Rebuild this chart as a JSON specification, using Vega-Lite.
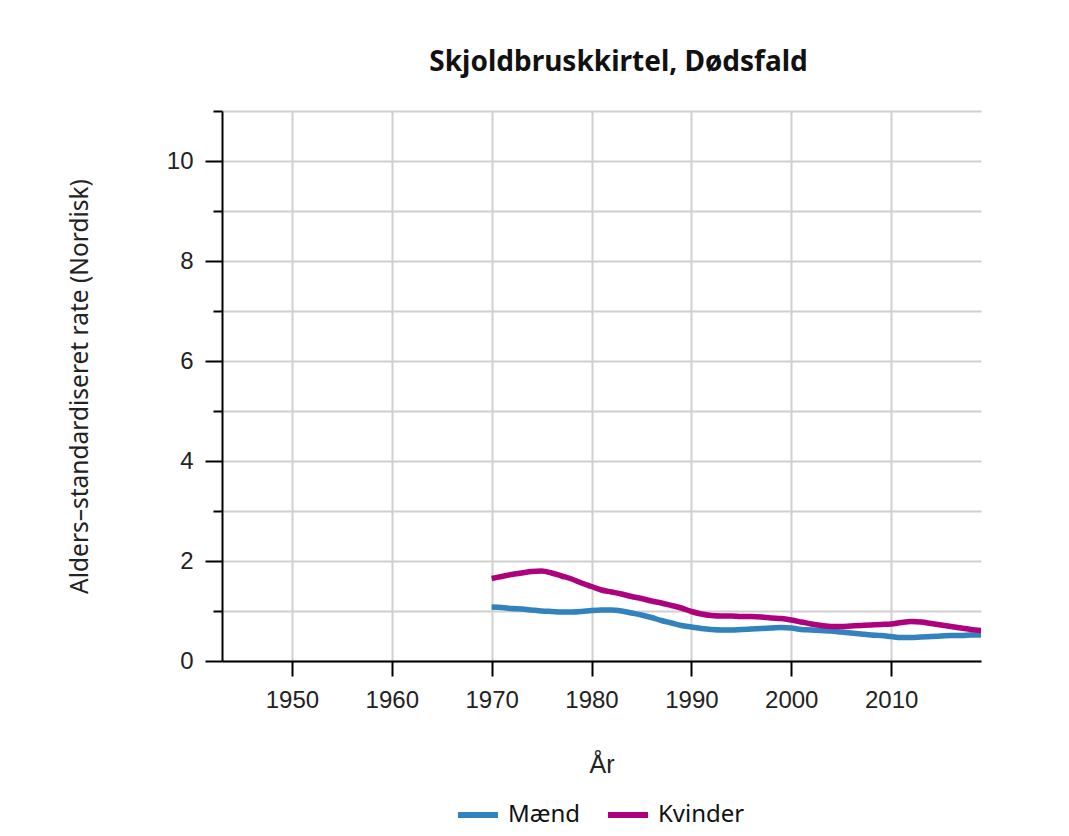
{
  "$schema": "https://vega.github.io/schema/vega-lite/v6.json",
  "autosize": {"type": "none"},
  "width": 759,
  "height": 550,
  "padding": {"left": 222, "top": 111, "right": 88, "bottom": 175},
  "background": "white",
  "title": {
    "text": "Skjoldbruskkirtel, Dødsfald",
    "font": "Noto Sans",
    "fontSize": 28,
    "fontWeight": "bold",
    "color": "#111",
    "anchor": "middle",
    "dx": 17,
    "offset": 33
  },
  "data": {
    "values": [
      {"year": 1970, "sex": "Mænd", "rate": 1.08}, {"year": 1971, "sex": "Mænd", "rate": 1.07}, {"year": 1972, "sex": "Mænd", "rate": 1.05}, {"year": 1973, "sex": "Mænd", "rate": 1.04}, {"year": 1974, "sex": "Mænd", "rate": 1.02},
      {"year": 1975, "sex": "Mænd", "rate": 1.0}, {"year": 1976, "sex": "Mænd", "rate": 0.99}, {"year": 1977, "sex": "Mænd", "rate": 0.98}, {"year": 1978, "sex": "Mænd", "rate": 0.98}, {"year": 1979, "sex": "Mænd", "rate": 0.99},
      {"year": 1980, "sex": "Mænd", "rate": 1.01}, {"year": 1981, "sex": "Mænd", "rate": 1.02}, {"year": 1982, "sex": "Mænd", "rate": 1.02}, {"year": 1983, "sex": "Mænd", "rate": 1.0}, {"year": 1984, "sex": "Mænd", "rate": 0.96},
      {"year": 1985, "sex": "Mænd", "rate": 0.92}, {"year": 1986, "sex": "Mænd", "rate": 0.87}, {"year": 1987, "sex": "Mænd", "rate": 0.81}, {"year": 1988, "sex": "Mænd", "rate": 0.76}, {"year": 1989, "sex": "Mænd", "rate": 0.71},
      {"year": 1990, "sex": "Mænd", "rate": 0.68}, {"year": 1991, "sex": "Mænd", "rate": 0.65}, {"year": 1992, "sex": "Mænd", "rate": 0.63}, {"year": 1993, "sex": "Mænd", "rate": 0.62}, {"year": 1994, "sex": "Mænd", "rate": 0.62},
      {"year": 1995, "sex": "Mænd", "rate": 0.63}, {"year": 1996, "sex": "Mænd", "rate": 0.64}, {"year": 1997, "sex": "Mænd", "rate": 0.65}, {"year": 1998, "sex": "Mænd", "rate": 0.66}, {"year": 1999, "sex": "Mænd", "rate": 0.67},
      {"year": 2000, "sex": "Mænd", "rate": 0.66}, {"year": 2001, "sex": "Mænd", "rate": 0.63}, {"year": 2002, "sex": "Mænd", "rate": 0.62}, {"year": 2003, "sex": "Mænd", "rate": 0.61}, {"year": 2004, "sex": "Mænd", "rate": 0.6},
      {"year": 2005, "sex": "Mænd", "rate": 0.58}, {"year": 2006, "sex": "Mænd", "rate": 0.56}, {"year": 2007, "sex": "Mænd", "rate": 0.54}, {"year": 2008, "sex": "Mænd", "rate": 0.52}, {"year": 2009, "sex": "Mænd", "rate": 0.51},
      {"year": 2010, "sex": "Mænd", "rate": 0.49}, {"year": 2011, "sex": "Mænd", "rate": 0.47}, {"year": 2012, "sex": "Mænd", "rate": 0.47}, {"year": 2013, "sex": "Mænd", "rate": 0.48}, {"year": 2014, "sex": "Mænd", "rate": 0.49},
      {"year": 2015, "sex": "Mænd", "rate": 0.5}, {"year": 2016, "sex": "Mænd", "rate": 0.51}, {"year": 2017, "sex": "Mænd", "rate": 0.51}, {"year": 2018, "sex": "Mænd", "rate": 0.52}, {"year": 2019, "sex": "Mænd", "rate": 0.52},
      {"year": 1970, "sex": "Kvinder", "rate": 1.65}, {"year": 1971, "sex": "Kvinder", "rate": 1.69}, {"year": 1972, "sex": "Kvinder", "rate": 1.73}, {"year": 1973, "sex": "Kvinder", "rate": 1.76}, {"year": 1974, "sex": "Kvinder", "rate": 1.79},
      {"year": 1975, "sex": "Kvinder", "rate": 1.8}, {"year": 1976, "sex": "Kvinder", "rate": 1.76}, {"year": 1977, "sex": "Kvinder", "rate": 1.7}, {"year": 1978, "sex": "Kvinder", "rate": 1.64}, {"year": 1979, "sex": "Kvinder", "rate": 1.56},
      {"year": 1980, "sex": "Kvinder", "rate": 1.49}, {"year": 1981, "sex": "Kvinder", "rate": 1.42}, {"year": 1982, "sex": "Kvinder", "rate": 1.38}, {"year": 1983, "sex": "Kvinder", "rate": 1.34}, {"year": 1984, "sex": "Kvinder", "rate": 1.29},
      {"year": 1985, "sex": "Kvinder", "rate": 1.25}, {"year": 1986, "sex": "Kvinder", "rate": 1.2}, {"year": 1987, "sex": "Kvinder", "rate": 1.16}, {"year": 1988, "sex": "Kvinder", "rate": 1.11}, {"year": 1989, "sex": "Kvinder", "rate": 1.06},
      {"year": 1990, "sex": "Kvinder", "rate": 0.99}, {"year": 1991, "sex": "Kvinder", "rate": 0.94}, {"year": 1992, "sex": "Kvinder", "rate": 0.91}, {"year": 1993, "sex": "Kvinder", "rate": 0.9}, {"year": 1994, "sex": "Kvinder", "rate": 0.9},
      {"year": 1995, "sex": "Kvinder", "rate": 0.89}, {"year": 1996, "sex": "Kvinder", "rate": 0.89}, {"year": 1997, "sex": "Kvinder", "rate": 0.88}, {"year": 1998, "sex": "Kvinder", "rate": 0.86}, {"year": 1999, "sex": "Kvinder", "rate": 0.85},
      {"year": 2000, "sex": "Kvinder", "rate": 0.82}, {"year": 2001, "sex": "Kvinder", "rate": 0.78}, {"year": 2002, "sex": "Kvinder", "rate": 0.74}, {"year": 2003, "sex": "Kvinder", "rate": 0.71}, {"year": 2004, "sex": "Kvinder", "rate": 0.69},
      {"year": 2005, "sex": "Kvinder", "rate": 0.69}, {"year": 2006, "sex": "Kvinder", "rate": 0.7}, {"year": 2007, "sex": "Kvinder", "rate": 0.71}, {"year": 2008, "sex": "Kvinder", "rate": 0.72}, {"year": 2009, "sex": "Kvinder", "rate": 0.73},
      {"year": 2010, "sex": "Kvinder", "rate": 0.74}, {"year": 2011, "sex": "Kvinder", "rate": 0.77}, {"year": 2012, "sex": "Kvinder", "rate": 0.79}, {"year": 2013, "sex": "Kvinder", "rate": 0.78}, {"year": 2014, "sex": "Kvinder", "rate": 0.75},
      {"year": 2015, "sex": "Kvinder", "rate": 0.72}, {"year": 2016, "sex": "Kvinder", "rate": 0.69}, {"year": 2017, "sex": "Kvinder", "rate": 0.66}, {"year": 2018, "sex": "Kvinder", "rate": 0.63}, {"year": 2019, "sex": "Kvinder", "rate": 0.61}
    ]
  },
  "mark": {"type": "line", "strokeWidth": 5.5, "interpolate": "monotone", "clip": true},
  "encoding": {
    "x": {
      "field": "year",
      "type": "quantitative",
      "scale": {"domain": [1943, 2019], "nice": false, "zero": false},
      "axis": {
        "title": "År",
        "values": [1950, 1960, 1970, 1980, 1990, 2000, 2010],
        "format": "d",
        "grid": true,
        "gridColor": "#d0d0d0",
        "gridWidth": 2,
        "domainColor": "#000",
        "domainWidth": 2,
        "tickColor": "#000",
        "tickWidth": 2,
        "tickSize": 15,
        "labelFont": "Liberation Sans",
        "labelFontSize": 24,
        "labelColor": "#222",
        "labelPadding": 12,
        "titleFont": "Liberation Sans",
        "titleFontSize": 25,
        "titleFontWeight": "normal",
        "titleColor": "#222",
        "titlePadding": 40
      }
    },
    "y": {
      "field": "rate",
      "type": "quantitative",
      "scale": {"domain": [0, 11], "nice": false},
      "axis": {
        "title": "Alders–standardiseret rate (Nordisk)",
        "values": [0, 1, 2, 3, 4, 5, 6, 7, 8, 9, 10, 11],
        "labelExpr": "datum.value % 2 === 0 ? datum.label : ''",
        "grid": true,
        "gridColor": "#d0d0d0",
        "gridWidth": 2,
        "domainColor": "#000",
        "domainWidth": 2,
        "tickColor": "#000",
        "tickWidth": 2,
        "tickSize": {"condition": {"test": "datum.value % 2 === 0", "value": 17}, "value": 9},
        "labelFont": "Liberation Sans",
        "labelFontSize": 24,
        "labelColor": "#222",
        "labelPadding": 12,
        "titleFont": "Noto Sans",
        "titleFontSize": 24.5,
        "titleFontWeight": "normal",
        "titleColor": "#222",
        "titlePadding": 74
      }
    },
    "color": {
      "field": "sex",
      "type": "nominal",
      "sort": ["Mænd", "Kvinder"],
      "scale": {"domain": ["Mænd", "Kvinder"], "range": ["#3182bd", "#ae017e"]},
      "legend": {
        "title": null,
        "orient": "none",
        "direction": "horizontal",
        "legendX": 233,
        "legendY": 681,
        "symbolType": "stroke",
        "symbolSize": 1600,
        "symbolStrokeWidth": 6,
        "labelFont": "Noto Sans",
        "labelFontSize": 24,
        "labelColor": "#111",
        "labelOffset": 7,
        "columnPadding": 15
      }
    }
  },
  "config": {
    "view": {"stroke": null}
  }
}
